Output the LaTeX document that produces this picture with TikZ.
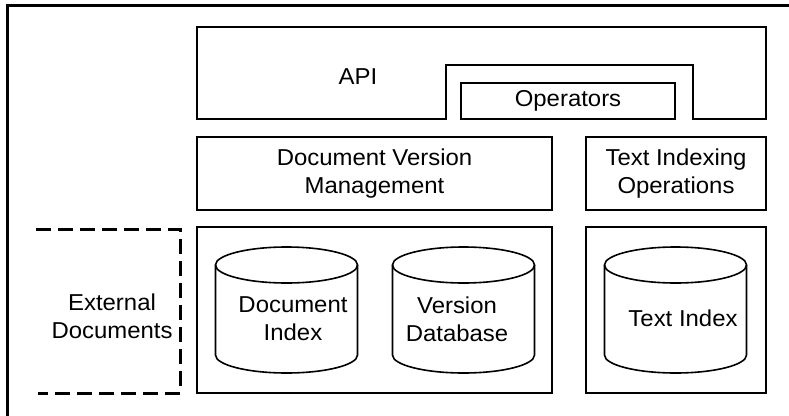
\documentclass[tikz,border=0pt]{standalone}
\usepackage{fontspec}
\setmainfont{Liberation Sans}[FakeStretch=1.04]
\tikzset{
  txt/.style={font=\fontsize{23}{28}\selectfont, align=center, inner sep=0pt},
  box/.style={draw, line width=1.6pt, txt},
  frame/.style={line width=3pt},
  ext/.style={line width=3pt, dash pattern=on 15pt off 7pt},
  dbcyl/.pic={
    \draw[line width=1.6pt] (0,0) ellipse [x radius=71pt, y radius=18pt];
    \draw[line width=1.6pt] (-71,0) -- (-71,90)
      .. controls (-71,99.9) and (-39.2,108) .. (0,108)
      .. controls (39.2,108) and (71,99.9) .. (71,90) -- (71,0);
  }
}
\begin{document}
\begin{tikzpicture}[x=1pt,y=-1pt]
\useasboundingbox (0,0) rectangle (789,415);
\clip (0,0) rectangle (789,415);
\fill[white] (0,0) rectangle (789,415);
% outer frame (right and bottom edges lie outside the picture)
\draw[frame] (7,430) -- (7,5) -- (800,5);
% API block with notch
\draw[line width=1.6pt] (197,27) -- (766,27) -- (766,119) -- (693,119) -- (693,65)
  -- (446,65) -- (446,119) -- (197,119) -- cycle;
\node[txt] (api) at (358,77) {API};
\node[box, minimum width=214pt, minimum height=36pt] (ops) at (568,101) {Operators};
% middle layer
\node[box, minimum width=355pt, minimum height=73pt] (dvm) at (374.5,173.5) {Document Version\\Management};
\node[box, minimum width=180pt, minimum height=73pt] (tio) at (676,173.5) {Text Indexing\\Operations};
% storage layer
\node[box, minimum width=355pt, minimum height=166pt] (store) at (374.5,310) {};
\node[box, minimum width=180pt, minimum height=166pt] (tstore) at (676,310) {};
\pic at (286.5,265) {dbcyl};
\pic at (463.5,265) {dbcyl};
\pic at (675.5,265) {dbcyl};
\node[txt] (docidx) at (293,319) {Document\\Index};
\node[txt] (verdb) at (457,319) {Version\\Database};
\node[txt] (txtidx) at (683,318) {Text Index};
% external documents
\draw[ext] (36,229) -- (180,229) -- (180,393) -- (38,393);
\node[txt] (extdoc) at (112,316) {External\\Documents};
\end{tikzpicture}
\end{document}
